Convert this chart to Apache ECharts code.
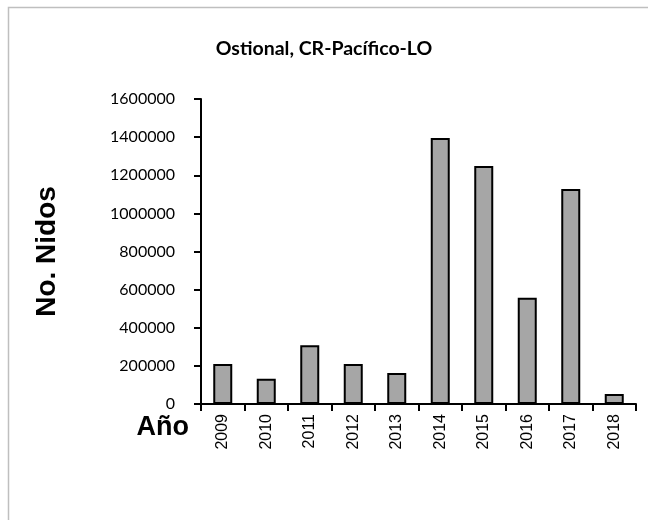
<!DOCTYPE html>
<html>
<head>
<meta charset="utf-8">
<script src="https://cdn.jsdelivr.net/npm/echarts@6/dist/echarts.min.js"></script>
<style>
  html, body { margin: 0; padding: 0; background: #ffffff; }
  #chart { width: 648px; height: 520px; }
</style>
</head>
<body>
<div id="chart"></div>
<script>
// Nesting counts at Ostional (Pacific coast of Costa Rica), per season
const years = ['2009', '2010', '2011', '2012', '2013', '2014', '2015', '2016', '2017', '2018'];
const nests = [210000, 133000, 308000, 210000, 163000, 1395000, 1249000, 558000, 1128000, 52000];

const titleText = 'Ostional, CR-Pacífico-LO';
const yAxisTitle = 'No. Nidos';
const xAxisTitle = 'Año';

const chart = echarts.init(document.getElementById('chart'), null, { renderer: 'canvas' });

chart.setOption({
  backgroundColor: '#ffffff',
  animation: false,
  title: {
    text: titleText,
    left: 'center',
    top: 34,
    textStyle: {
      fontFamily: 'Lato',
      fontWeight: 'bold',
      fontSize: 19.5,
      color: '#000000'
    }
  },
  graphic: [
    {
      // chart frame (its right and bottom edges run past the page)
      type: 'rect',
      left: 6,
      top: 5,
      shape: { x: 0, y: 0, width: 700, height: 600 },
      style: { fill: 'none', stroke: '#bfbfbf', lineWidth: 1.5 },
      silent: true
    },
    {
      type: 'text',
      right: 648 - 189,
      top: 414,
      style: {
        text: xAxisTitle,
        fontFamily: 'Liberation Sans',
        fontWeight: 'bold',
        fontSize: 27,
        fill: '#000000'
      }
    }
  ],
  grid: { left: 201, right: 12, top: 99, bottom: 116, containLabel: false },
  xAxis: {
    type: 'category',
    data: years,
    boundaryGap: true,
    axisLine: { show: true, lineStyle: { color: '#000000', width: 2 } },
    axisTick: { show: true, alignWithLabel: false, length: 7, lineStyle: { color: '#000000', width: 2 } },
    axisLabel: {
      rotate: 90,
      margin: 10,
      fontFamily: 'Liberation Sans',
      fontSize: 16,
      color: '#000000'
    },
    splitLine: { show: false }
  },
  yAxis: {
    type: 'value',
    min: 0,
    max: 1600000,
    interval: 200000,
    name: yAxisTitle,
    nameLocation: 'middle',
    nameGap: 140,
    nameRotate: 90,
    nameTextStyle: {
      fontFamily: 'Liberation Sans',
      fontWeight: 'bold',
      fontSize: 28,
      color: '#000000'
    },
    axisLine: { show: true, lineStyle: { color: '#000000', width: 2 } },
    axisTick: { show: true, inside: false, length: 7, lineStyle: { color: '#000000', width: 2 } },
    axisLabel: {
      margin: 26,
      fontFamily: 'Lato',
      fontSize: 16,
      color: '#000000',
      formatter: function (v) { return String(v); }
    },
    splitLine: { show: false }
  },
  series: [
    {
      type: 'bar',
      data: nests,
      barWidth: 19,
      itemStyle: {
        color: '#a6a6a6',
        borderColor: '#000000',
        borderWidth: 2
      }
    }
  ]
});
</script>
</body>
</html>
